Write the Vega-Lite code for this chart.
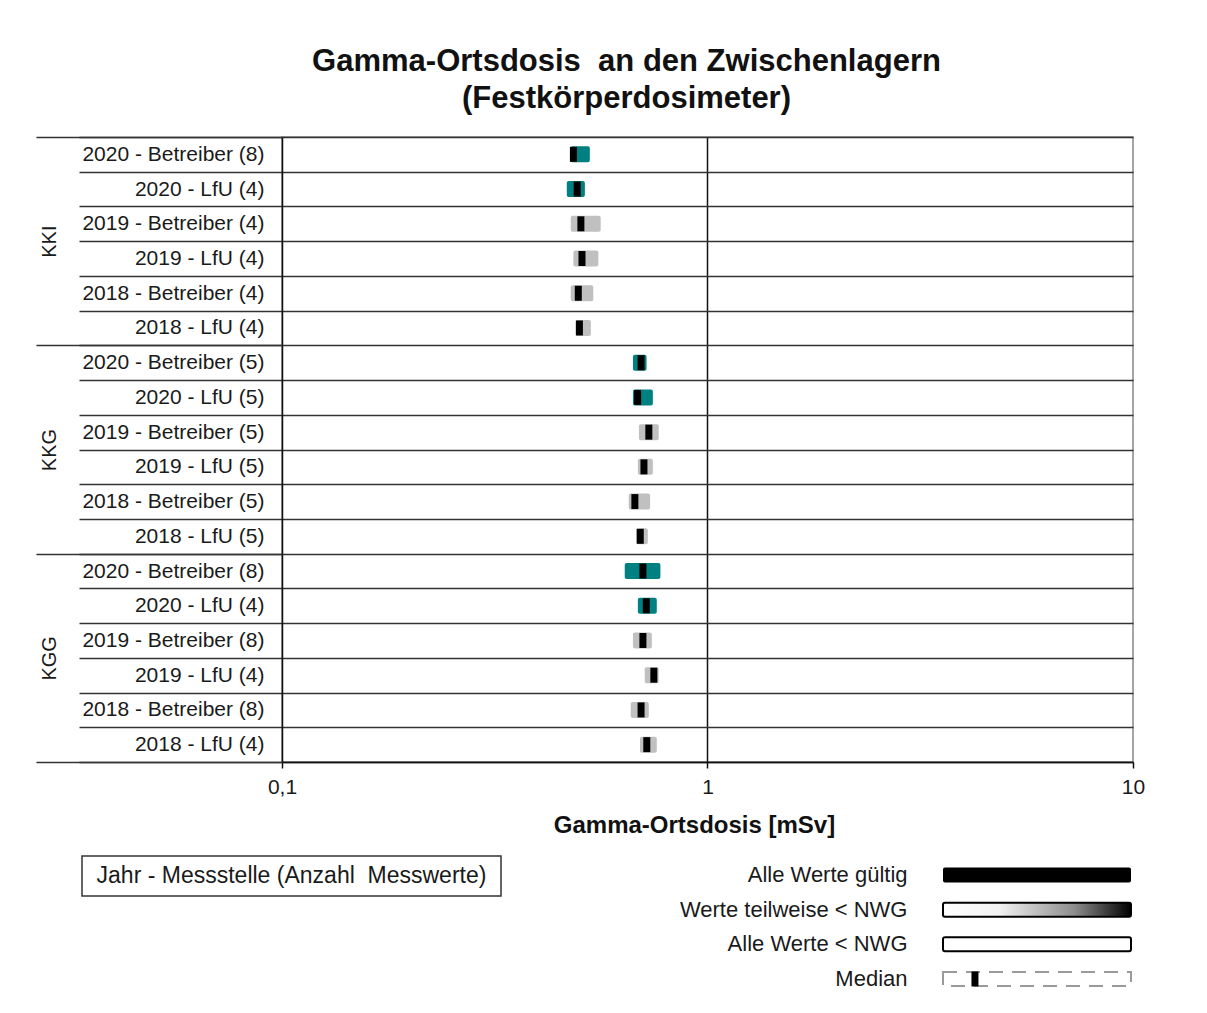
{
  "$schema": "https://vega.github.io/schema/vega-lite/v6.json",
  "background": "white",
  "padding": {"left": 33, "top": 45, "right": 5, "bottom": 5},
  "config": {
    "font": "Liberation Sans",
    "view": {"stroke": null}
  },
  "concat": [
    {
      "hconcat": [
        {
          "width": 1, "height": 1,
          "data": {"values": []},
          "mark": "point",
          "view": {"stroke": null}
        },
        {
          "width": 851,
          "height": 625,
          "title": {
            "text": ["Gamma-Ortsdosis\u00a0 an den Zwischenlagern", "(Festkörperdosimeter)"],
            "fontSize": 31,
            "fontWeight": "bold",
            "lineHeight": 37,
            "color": "#111111",
            "anchor": "middle",
            "dx": -81,
            "offset": 11
          },
          "view": {"stroke": "#888888", "strokeWidth": 1.5},
          "data": {
            "values": [
              {"id": "KKI|2020 - Betreiber (8)", "site": "KKI", "year": "2020", "min": 0.476, "max": 0.529, "median": 0.484},
              {"id": "KKI|2020 - LfU (4)", "site": "KKI", "year": "2020", "min": 0.467, "max": 0.515, "median": 0.494},
              {"id": "KKI|2019 - Betreiber (4)", "site": "KKI", "year": "2019", "min": 0.477, "max": 0.561, "median": 0.504},
              {"id": "KKI|2019 - LfU (4)", "site": "KKI", "year": "2019", "min": 0.484, "max": 0.554, "median": 0.507},
              {"id": "KKI|2018 - Betreiber (4)", "site": "KKI", "year": "2018", "min": 0.477, "max": 0.539, "median": 0.497},
              {"id": "KKI|2018 - LfU (4)", "site": "KKI", "year": "2018", "min": 0.490, "max": 0.532, "median": 0.500},
              {"id": "KKG|2020 - Betreiber (5)", "site": "KKG", "year": "2020", "min": 0.668, "max": 0.719, "median": 0.698},
              {"id": "KKG|2020 - LfU (5)", "site": "KKG", "year": "2020", "min": 0.668, "max": 0.744, "median": 0.685},
              {"id": "KKG|2019 - Betreiber (5)", "site": "KKG", "year": "2019", "min": 0.690, "max": 0.768, "median": 0.728},
              {"id": "KKG|2019 - LfU (5)", "site": "KKG", "year": "2019", "min": 0.686, "max": 0.744, "median": 0.709},
              {"id": "KKG|2018 - Betreiber (5)", "site": "KKG", "year": "2018", "min": 0.653, "max": 0.733, "median": 0.675},
              {"id": "KKG|2018 - LfU (5)", "site": "KKG", "year": "2018", "min": 0.680, "max": 0.724, "median": 0.695},
              {"id": "KGG|2020 - Betreiber (8)", "site": "KGG", "year": "2020", "min": 0.639, "max": 0.775, "median": 0.705},
              {"id": "KGG|2020 - LfU (4)", "site": "KGG", "year": "2020", "min": 0.686, "max": 0.760, "median": 0.718},
              {"id": "KGG|2019 - Betreiber (8)", "site": "KGG", "year": "2019", "min": 0.668, "max": 0.740, "median": 0.705},
              {"id": "KGG|2019 - LfU (4)", "site": "KGG", "year": "2019", "min": 0.712, "max": 0.768, "median": 0.748},
              {"id": "KGG|2018 - Betreiber (8)", "site": "KGG", "year": "2018", "min": 0.660, "max": 0.728, "median": 0.698},
              {"id": "KGG|2018 - LfU (4)", "site": "KGG", "year": "2018", "min": 0.694, "max": 0.760, "median": 0.720}
            ]
          },
          "layer": [
            {
              "encoding": {
                "y": {
                  "field": "id", "type": "nominal", "sort": null,
                  "scale": {"paddingInner": 0, "paddingOuter": 0},
                  "axis": {
                    "orient": "left", "title": null,
                    "labelExpr": "split(datum.label, '|')[1]",
                    "labelFontSize": 21, "labelColor": "#1a1a1a",
                    "labelAlign": "right", "labelBaseline": "middle",
                    "labelOverlap": false, "labelBound": false, "labelLimit": 0,
                    "tickBand": "extent", "ticks": true, "tickSize": 203,
                    "tickColor": "#333333", "tickWidth": 1.5,
                    "labelPadding": -185,
                    "domain": true, "domainColor": "#111111", "domainWidth": 1.5,
                    "grid": true, "gridColor": "#333333", "gridWidth": 1.5
                  }
                },
                "x": {
                  "field": "min", "type": "quantitative",
                  "scale": {"type": "log", "domain": [0.1, 10], "nice": false},
                  "axis": {
                    "values": [0.1, 1, 10], "format": "~g",
                    "labelExpr": "replace(datum.label, '.', ',')",
                    "labelFontSize": 21, "labelColor": "#1a1a1a", "labelPadding": 8,
                    "labelFlush": false, "labelOverlap": false,
                    "tickSize": 6, "tickColor": "#111111", "tickWidth": 1.5,
                    "domain": true, "domainColor": "#111111", "domainWidth": 1.5,
                    "grid": true, "gridWidth": 1.5,
                    "gridColor": {"condition": {"test": "datum.value == 1", "value": "#111111"}, "value": "transparent"},
                    "title": "Gamma-Ortsdosis [mSv]",
                    "titleFontSize": 24, "titleFontWeight": "bold", "titleColor": "#111111",
                    "titlePadding": 16, "titleX": 412
                  }
                }
              },
              "layer": [
                {
                  "mark": {"type": "bar", "height": 16, "cornerRadius": 2},
                  "encoding": {
                    "x2": {"field": "max"},
                    "color": {
                      "field": "year", "type": "nominal",
                      "scale": {"domain": ["2020", "2019", "2018"], "range": ["#008080", "#C0C0C0", "#C0C0C0"]},
                      "legend": null
                    }
                  }
                },
                {
                  "mark": {"type": "tick", "orient": "vertical", "thickness": 7, "size": 15, "color": "#000000", "opacity": 1},
                  "encoding": {
                    "x": {"field": "median", "type": "quantitative"}
                  }
                }
              ]
            },
            {
              "data": {"values": [{"site": "KKI"}, {"site": "KKG"}, {"site": "KGG"}]},
              "mark": {"type": "text", "text": ""},
              "encoding": {
                "y": {
                  "field": "site", "type": "nominal", "sort": ["KKI", "KKG", "KGG"],
                  "scale": {"paddingInner": 0, "paddingOuter": 0},
                  "axis": {
                    "orient": "left", "title": null,
                    "tickBand": "extent", "ticks": true, "tickSize": 246,
                    "tickColor": "#333333", "tickWidth": 1.5,
                    "labelAngle": 270, "labelAlign": "center", "labelBaseline": "middle",
                    "labelPadding": -13, "labelFontSize": 20, "labelColor": "#1a1a1a",
                    "labelOverlap": false, "labelLimit": 0, "domain": false, "grid": false
                  }
                }
              }
            }
          ],
          "resolve": {"scale": {"y": "independent"}, "axis": {"y": "independent"}}
        }
      ],
      "spacing": 0,
      "bounds": "full"
    },
    {
      "hconcat": [
        {
          "hconcat": [
            {
              "width": 48, "height": 1,
              "data": {"values": []},
              "mark": "point",
              "view": {"stroke": null}
            },
            {
              "width": 419, "height": 40,
              "view": {"stroke": "#333333", "strokeWidth": 1.5},
              "data": {"values": [{"t": "Jahr - Messstelle (Anzahl\u00a0 Messwerte)"}]},
              "mark": {"type": "text", "fontSize": 23, "color": "#1a1a1a", "align": "center", "baseline": "middle"},
              "encoding": {"text": {"field": "t"}}
            }
          ],
          "spacing": 0,
          "bounds": "full"
        },
        {
          "width": 188, "height": 142,
          "view": {"stroke": null},
          "data": {
            "values": [
              {"item": "Alle Werte gültig", "typ": "gueltig"},
              {"item": "Werte teilweise < NWG", "typ": "teilweise"},
              {"item": "Alle Werte < NWG", "typ": "unter"},
              {"item": "Median", "typ": "median"}
            ]
          },
          "encoding": {
            "y": {
              "field": "item", "type": "nominal", "sort": null,
              "scale": {"paddingInner": 0, "paddingOuter": 0.05},
              "axis": {
                "title": null, "ticks": false, "domain": false, "grid": false,
                "labelFontSize": 22, "labelColor": "#1a1a1a", "labelPadding": 36,
                "labelOverlap": false, "labelLimit": 0
              }
            }
          },
          "layer": [
            {
              "transform": [{"filter": "datum.typ == 'gueltig'"}],
              "mark": {"type": "bar", "height": 15, "fill": "#000000", "cornerRadius": 2},
              "encoding": {
                "x": {"datum": 0, "type": "quantitative", "scale": {"domain": [0, 1]}, "axis": null},
                "x2": {"datum": 1}
              }
            },
            {
              "transform": [{"filter": "datum.typ == 'teilweise'"}],
              "mark": {
                "type": "bar", "height": 14, "stroke": "#000000", "strokeWidth": 2, "cornerRadius": 2,
                "fill": {
                  "gradient": "linear", "x1": 0, "y1": 0, "x2": 1, "y2": 0,
                  "stops": [
                    {"offset": 0, "color": "#ffffff"},
                    {"offset": 0.3, "color": "#f2f2f2"},
                    {"offset": 0.7, "color": "#8c8c8c"},
                    {"offset": 1, "color": "#000000"}
                  ]
                }
              },
              "encoding": {
                "x": {"datum": 0, "type": "quantitative", "scale": {"domain": [0, 1]}, "axis": null},
                "x2": {"datum": 1}
              }
            },
            {
              "transform": [{"filter": "datum.typ == 'unter'"}],
              "mark": {"type": "bar", "height": 14, "fill": "#ffffff", "stroke": "#000000", "strokeWidth": 2, "cornerRadius": 2},
              "encoding": {
                "x": {"datum": 0, "type": "quantitative", "scale": {"domain": [0, 1]}, "axis": null},
                "x2": {"datum": 1}
              }
            },
            {
              "transform": [{"filter": "datum.typ == 'median'"}],
              "mark": {"type": "bar", "height": 14, "fill": "#ffffff", "stroke": "#9a9a9a", "strokeWidth": 2, "strokeDash": [14, 9]},
              "encoding": {
                "x": {"datum": 0, "type": "quantitative", "scale": {"domain": [0, 1]}, "axis": null},
                "x2": {"datum": 1}
              }
            },
            {
              "transform": [{"filter": "datum.typ == 'median'"}],
              "mark": {"type": "tick", "orient": "vertical", "thickness": 7, "size": 15, "color": "#000000", "opacity": 1},
              "encoding": {
                "x": {"datum": 0.17, "type": "quantitative", "scale": {"domain": [0, 1]}, "axis": null}
              }
            }
          ]
        }
      ],
      "spacing": 177,
      "bounds": "full"
    }
  ],
  "columns": 1,
  "bounds": "full",
  "spacing": 17
}
